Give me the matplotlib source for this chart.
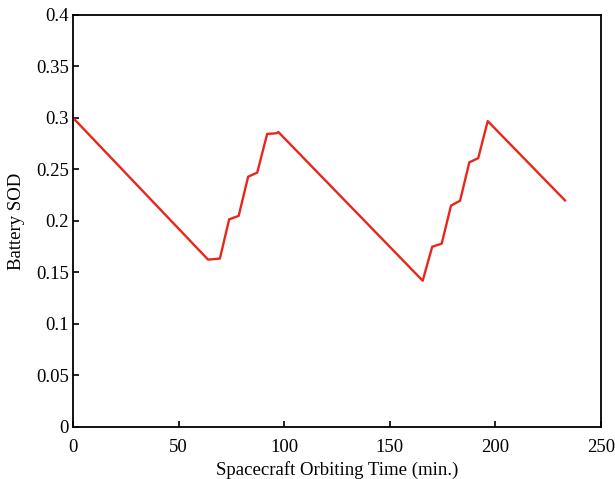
import numpy as np
import matplotlib.pyplot as plt

plt.rcParams['font.family'] = ['Liberation Serif', 'DejaVu Serif']

# orbit time (min.) and battery depth of discharge
time_min = [0, 63.9, 69.5, 73.9, 78.4, 82.9, 87.2, 91.9, 96.4, 97.2,
            165.6, 170.1, 174.6, 179.0, 183.3, 187.7, 191.9, 196.4, 233.0]
sod = [0.300, 0.1625, 0.1635, 0.2016, 0.205, 0.243, 0.247, 0.2845, 0.2852, 0.2864,
       0.142, 0.175, 0.178, 0.2149, 0.2197, 0.257, 0.261, 0.297, 0.220]

fig = plt.figure(figsize=(6.15, 4.79), dpi=100)
ax = fig.add_axes([0.119, 0.1086, 0.858, 0.8601])

ax.plot(time_min, sod, color='#e8261c', linewidth=1.7)

ax.set_xlim(0, 250)
ax.set_ylim(0, 0.4)
ax.set_xticks(np.arange(0, 251, 50))
ax.set_yticks(np.arange(0, 0.41, 0.05))
ax.set_yticklabels(['0', '0.05', '0.1', '0.15', '0.2', '0.25', '0.3', '0.35', '0.4'])
ax.tick_params(direction='in', length=4, width=1.2, labelsize=13.5, top=False, right=False)
ax.tick_params(axis='x', pad=9)
ax.tick_params(axis='y', pad=3)
for s in ax.spines.values():
    s.set_linewidth(1.3)

ax.set_xlabel('Spacecraft Orbiting Time (min.)', fontsize=13.5, labelpad=3)
ax.set_ylabel('Battery SOD', fontsize=13.5, labelpad=8)

fig.savefig('out.png', dpi=100)
